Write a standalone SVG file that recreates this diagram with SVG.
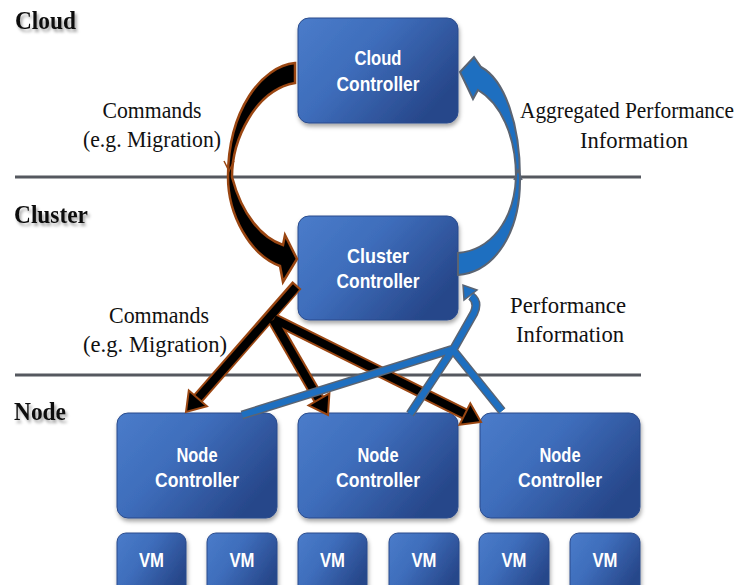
<svg xmlns="http://www.w3.org/2000/svg" width="748" height="585" viewBox="0 0 748 585">
<defs>
<linearGradient id="boxg" x1="0" y1="0" x2="1" y2="0.6">
<stop offset="0" stop-color="#4a7cca"/>
<stop offset="0.45" stop-color="#3e6dbb"/>
<stop offset="1" stop-color="#27478a"/>
</linearGradient>
<filter id="sh" x="-10%" y="-10%" width="130%" height="140%">
<feDropShadow dx="1" dy="3" stdDeviation="2" flood-color="#000" flood-opacity="0.35"/>
</filter>
<filter id="tsh" x="-10%" y="-20%" width="130%" height="160%">
<feDropShadow dx="2" dy="3" stdDeviation="1.5" flood-color="#000" flood-opacity="0.35"/>
</filter>
</defs>
<style>
.box{fill:url(#boxg);stroke:#2b4b8c;stroke-width:1;filter:url(#sh)}
.bt{font-family:"Liberation Sans",Arial,sans-serif;font-weight:bold;font-size:21px;fill:#fff;text-anchor:middle}
.lvl{font-family:"Liberation Serif","Times New Roman",serif;font-weight:bold;font-size:26px;fill:#111;filter:url(#tsh)}
.lbl{font-family:"Liberation Serif","Times New Roman",serif;font-size:23px;fill:#111;text-anchor:middle}
.sep{stroke:#55585f;stroke-width:3}
.bo{fill:none;stroke:#9a4612;stroke-width:12}
.bi{fill:none;stroke:#000;stroke-width:8}
.bh{fill:#000;stroke:#9a4612;stroke-width:2;stroke-linejoin:miter}
.uo{fill:none;stroke:#5b6472;stroke-width:9;stroke-linejoin:round}
.ui{fill:none;stroke:#1e6fc0;stroke-width:6;stroke-linejoin:round}
.uh{fill:#1e6fc0;stroke:#5b6472;stroke-width:1.5}
</style>
<rect width="748" height="585" fill="#fff"/>
<g id="separators">
<line class="sep" x1="15" y1="177" x2="641" y2="177"/>
<line class="sep" x1="15" y1="375" x2="641" y2="375"/>
</g>
<g id="labels">
<text class="lvl" x="15" y="29" textLength="61" lengthAdjust="spacingAndGlyphs">Cloud</text>
<text class="lvl" x="14" y="223" textLength="74" lengthAdjust="spacingAndGlyphs">Cluster</text>
<text class="lvl" x="14" y="420" textLength="52" lengthAdjust="spacingAndGlyphs">Node</text>
<text class="lbl" x="152" y="118" textLength="99" lengthAdjust="spacingAndGlyphs">Commands</text>
<text class="lbl" x="152" y="147" textLength="138" lengthAdjust="spacingAndGlyphs">(e.g. Migration)</text>
<text class="lbl" x="627" y="118" font-size="22" textLength="214" lengthAdjust="spacingAndGlyphs">Aggregated Performance</text>
<text class="lbl" x="634" y="148" textLength="108" lengthAdjust="spacingAndGlyphs">Information</text>
<text class="lbl" x="568" y="313" textLength="116" lengthAdjust="spacingAndGlyphs">Performance</text>
<text class="lbl" x="570" y="342" textLength="108" lengthAdjust="spacingAndGlyphs">Information</text>
<text class="lbl" x="159" y="323" textLength="100" lengthAdjust="spacingAndGlyphs">Commands</text>
<text class="lbl" x="155" y="352" textLength="144" lengthAdjust="spacingAndGlyphs">(e.g. Migration)</text>
</g>
<g id="cloud-controller">
<rect class="box" x="298" y="18" width="160" height="105" rx="11"/>
<text class="bt" x="378" y="65" textLength="47" lengthAdjust="spacingAndGlyphs">Cloud</text>
<text class="bt" x="378" y="91" textLength="83" lengthAdjust="spacingAndGlyphs">Controller</text>
</g>
<g id="cluster-controller">
<rect class="box" x="298" y="216" width="160" height="104" rx="11"/>
<text class="bt" x="378" y="263" textLength="62" lengthAdjust="spacingAndGlyphs">Cluster</text>
<text class="bt" x="378" y="288" textLength="83" lengthAdjust="spacingAndGlyphs">Controller</text>
</g>
<g id="node-controller-1">
<rect class="box" x="117" y="413" width="160" height="105" rx="11"/>
<text class="bt" x="197" y="462" textLength="41" lengthAdjust="spacingAndGlyphs">Node</text>
<text class="bt" x="197" y="487" textLength="84" lengthAdjust="spacingAndGlyphs">Controller</text>
</g>
<g id="node-controller-2">
<rect class="box" x="298" y="413" width="160" height="105" rx="11"/>
<text class="bt" x="378" y="462" textLength="41" lengthAdjust="spacingAndGlyphs">Node</text>
<text class="bt" x="378" y="487" textLength="84" lengthAdjust="spacingAndGlyphs">Controller</text>
</g>
<g id="node-controller-3">
<rect class="box" x="480" y="413" width="160" height="105" rx="11"/>
<text class="bt" x="560" y="462" textLength="41" lengthAdjust="spacingAndGlyphs">Node</text>
<text class="bt" x="560" y="487" textLength="84" lengthAdjust="spacingAndGlyphs">Controller</text>
</g>
<g id="vm-1"><rect class="box" x="117" y="533" width="69" height="62" rx="9"/><text class="bt" x="151.5" y="567" textLength="25" lengthAdjust="spacingAndGlyphs">VM</text></g>
<g id="vm-2"><rect class="box" x="207" y="533" width="70" height="62" rx="9"/><text class="bt" x="242" y="567" textLength="25" lengthAdjust="spacingAndGlyphs">VM</text></g>
<g id="vm-3"><rect class="box" x="298" y="533" width="69" height="62" rx="9"/><text class="bt" x="332.5" y="567" textLength="25" lengthAdjust="spacingAndGlyphs">VM</text></g>
<g id="vm-4"><rect class="box" x="389" y="533" width="70" height="62" rx="9"/><text class="bt" x="424" y="567" textLength="25" lengthAdjust="spacingAndGlyphs">VM</text></g>
<g id="vm-5"><rect class="box" x="479" y="533" width="70" height="62" rx="9"/><text class="bt" x="514" y="567" textLength="25" lengthAdjust="spacingAndGlyphs">VM</text></g>
<g id="vm-6"><rect class="box" x="570" y="533" width="70" height="62" rx="9"/><text class="bt" x="605" y="567" textLength="25" lengthAdjust="spacingAndGlyphs">VM</text></g>
<g id="connectors">
<path fill="#000" stroke="#9a4612" stroke-width="2.5" stroke-linejoin="miter" d="M295,63 C262,66 228,110 228,177 C228,215 250,255 280,266 L283,282 L297,259 L285,235 L283,245 C262,238 242,215 232,177 C232,140 255,90 295,83 Z"/>
<polyline points="224,161 229,171 234,161" fill="none" stroke="#9a4612" stroke-width="1.5"/>
<path fill="#1e6fc0" stroke="#5b6472" stroke-width="2" stroke-linejoin="miter" d="M458,253 C490,250 514,222 516,177 C516,135 500,103 478,90 L473,99 L460,72 L474,57 L481,67 C505,80 520,125 520,177 C521,232 495,272 458,275 Z"/>
<polyline points="514,180 518,170 522,180" fill="none" stroke="#5b6472" stroke-width="1.5"/>
<line class="bo" x1="272" y1="318" x2="319" y2="399.4"/>
<line class="bo" x1="272" y1="318" x2="464.9" y2="414"/>
<line class="bo" x1="297" y1="285" x2="197.9" y2="398.4"/>
<line class="bi" x1="273" y1="320" x2="319" y2="399.4"/>
<line class="bi" x1="274" y1="319" x2="464.9" y2="414"/>
<line class="bi" x1="296" y1="287" x2="197.9" y2="398.4"/>
<polygon class="bh" points="206.9,406.3 186,412 188.8,390.5"/>
<polygon class="bh" points="329.4,393.4 328,415 308.6,405.4"/>
<polygon class="bh" points="459.5,424.7 481,422 470.3,403.3"/>
<path class="uo" d="M242,415 L453,349 M410,414 L453,349 M502,411 L453,350 M453,350 L474,313 Q479,302 471,296"/>
<path class="ui" d="M242,415 L453,349 M410,414 L453,349 M502,411 L453,350 M453,350 L474,313 Q479,302 471,296"/>
<polygon class="uh" points="477,290 463,285 464,300"/>
</g>
</svg>
